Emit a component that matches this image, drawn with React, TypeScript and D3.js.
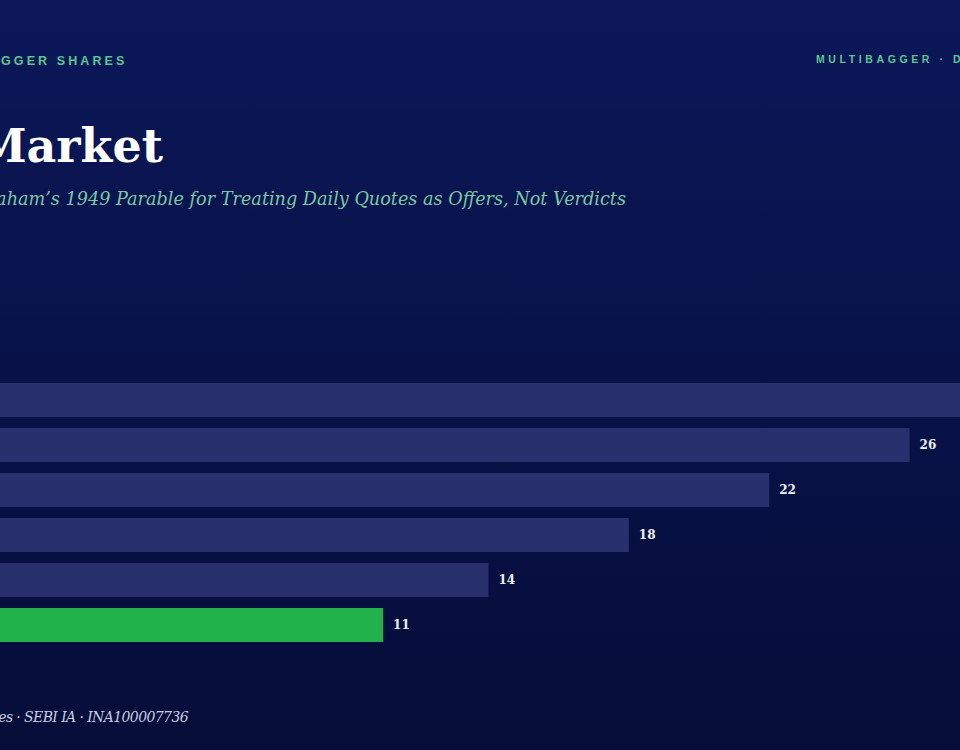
import * as React from "react";
import * as d3 from "d3";

// bars, top to bottom (category labels sit off the left edge of the crop)
const categories = [
  "Panic sellers",
  "Momentum chasers",
  "News traders",
  "Index huggers",
  "Patient holders",
  "Mr. Market's offer taken",
];
const values = [30, 26, 22, 18, 14, 11];
const highlight = "Mr. Market's offer taken";

const kicker = "MULTIBAGGER SHARES";
const brand = "MULTIBAGGER · DATA NOTES";
const title = "Mr. Market";
const subtitle =
  "Benjamin Graham’s 1949 Parable for Treating Daily Quotes as Offers, Not Verdicts";
const footer = "Multibagger Shares · SEBI IA · INA100007736";

const W = 960;
const H = 750;

export default function App() {
  const ref = React.useRef<SVGSVGElement | null>(null);

  React.useEffect(() => {
    document.body.style.margin = "0";
    const svg = d3.select(ref.current);
    svg.selectAll("*").remove();

    const defs = svg.append("defs");
    const grad = defs
      .append("linearGradient")
      .attr("id", "bg")
      .attr("x1", 0)
      .attr("y1", 0)
      .attr("x2", 0)
      .attr("y2", 1);
    grad.append("stop").attr("offset", "0%").attr("stop-color", "#0b1759");
    grad.append("stop").attr("offset", "100%").attr("stop-color", "#050d38");

    svg
      .append("rect")
      .attr("width", W)
      .attr("height", H)
      .attr("fill", "url(#bg)");

    // header strip
    svg
      .append("text")
      .attr("x", 127.5)
      .attr("y", 65)
      .attr("text-anchor", "end")
      .attr("font-family", "'Liberation Sans', Arial, sans-serif")
      .attr("font-weight", 700)
      .attr("font-size", 12.5)
      .attr("letter-spacing", 3.1)
      .attr("fill", "#5cc690")
      .text(kicker);

    svg
      .append("text")
      .attr("x", 816)
      .attr("y", 63)
      .attr("font-family", "'Liberation Sans', Arial, sans-serif")
      .attr("font-weight", 700)
      .attr("font-size", 10.5)
      .attr("letter-spacing", 3.6)
      .attr("fill", "#5cc690")
      .text(brand);

    svg
      .append("text")
      .attr("x", 163)
      .attr("y", 162)
      .attr("text-anchor", "end")
      .attr("font-family", "Georgia, 'DejaVu Serif', serif")
      .attr("font-weight", 700)
      .attr("font-size", 46)
      .attr("fill", "#ffffff")
      .text(title);

    svg
      .append("text")
      .attr("x", 626)
      .attr("y", 205)
      .attr("text-anchor", "end")
      .attr("font-family", "Georgia, 'DejaVu Serif', serif")
      .attr("font-style", "italic")
      .attr("font-size", 17.65)
      .attr("fill", "#7cc9a0")
      .text(subtitle);

    // bars
    const y = d3
      .scaleBand<string>()
      .domain(categories)
      .range([383, 642])
      .paddingInner(11 / 45)
      .paddingOuter(0);

    const x = d3.scaleLinear().domain([0, 30]).range([-3, 1050]);

    const rows = svg
      .append("g")
      .selectAll("g")
      .data(categories)
      .enter()
      .append("g");

    rows
      .append("rect")
      .attr("x", x(0))
      .attr("y", (d) => y(d)!)
      .attr("width", (d, i) => x(values[i]) - x(0))
      .attr("height", y.bandwidth())
      .attr("fill", (d) => (d === highlight ? "#22b24c" : "#28316e"));

    rows
      .append("text")
      .attr("x", (d, i) => x(values[i]) + 10)
      .attr("y", (d) => y(d)! + y.bandwidth() / 2)
      .attr("dy", "0.35em")
      .attr("font-family", "Georgia, 'DejaVu Serif', serif")
      .attr("font-weight", 700)
      .attr("font-size", 12)
      .attr("fill", "#eef0f8")
      .text((d, i) => values[i]);

    // category labels, left of the visible area
    rows
      .append("text")
      .attr("x", x(0) - 12)
      .attr("y", (d) => y(d)! + y.bandwidth() / 2)
      .attr("dy", "0.35em")
      .attr("text-anchor", "end")
      .attr("font-family", "Georgia, 'DejaVu Serif', serif")
      .attr("font-size", 13)
      .attr("fill", "#c8cde0")
      .text((d) => d);

    svg
      .append("text")
      .attr("x", 188)
      .attr("y", 722)
      .attr("text-anchor", "end")
      .attr("font-family", "Georgia, 'DejaVu Serif', serif")
      .attr("font-style", "italic")
      .attr("font-size", 14)
      .attr("letter-spacing", -0.6)
      .attr("fill", "#c6cbe0")
      .text(footer);
  }, []);

  return <svg ref={ref} width={W} height={H} style={{ display: "block" }} />;
}
